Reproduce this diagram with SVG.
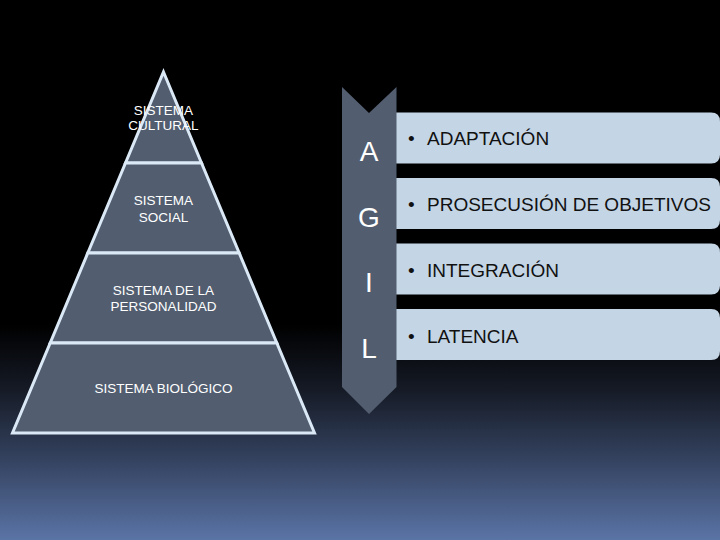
<svg xmlns="http://www.w3.org/2000/svg" width="720" height="540" viewBox="0 0 720 540">
<defs>
<linearGradient id="bg" x1="0" y1="0" x2="0" y2="1">
<stop offset="0" stop-color="#000"/>
<stop offset="0.6" stop-color="#000"/>
<stop offset="0.72" stop-color="#151a25"/>
<stop offset="0.85" stop-color="#34425f"/>
<stop offset="1" stop-color="#5a74a6"/>
</linearGradient>
<style>
.layer{fill:#525e70;stroke:#dbe9f7;stroke-width:3;stroke-linejoin:miter}
.ptxt{font-family:"Liberation Sans",Arial,sans-serif;font-size:13.5px;fill:#fff;text-anchor:middle}
.chev{fill:#525e70}
.let{font-family:"Liberation Sans",Arial,sans-serif;font-size:28px;fill:#fff;text-anchor:middle}
.bar{fill:#c4d5e6}
.btxt{font-family:"Liberation Sans",Arial,sans-serif;font-size:19px;fill:#111}
</style>
</defs>
<rect x="0" y="0" width="720" height="540" fill="url(#bg)"/>

<g id="pyramid">
<g id="cultural">
<polygon class="layer" points="163.5,72 201.5,163 125.5,163"/>
<text class="ptxt" x="163.5" y="115">SISTEMA</text>
<text class="ptxt" x="163.5" y="130">CULTURAL</text>
</g>
<g id="social">
<polygon class="layer" points="125.5,163 201.5,163 239.2,253 87.8,253"/>
<text class="ptxt" x="163.5" y="205">SISTEMA</text>
<text class="ptxt" x="163.5" y="222">SOCIAL</text>
</g>
<g id="personalidad">
<polygon class="layer" points="87.8,253 239.2,253 276.8,343 50.2,343"/>
<text class="ptxt" x="163.5" y="295">SISTEMA DE LA</text>
<text class="ptxt" x="163.5" y="311">PERSONALIDAD</text>
</g>
<g id="biologico">
<polygon class="layer" points="50.2,343 276.8,343 314.5,433 12.5,433"/>
<text class="ptxt" x="163.5" y="393">SISTEMA BIOLÓGICO</text>
</g>
</g>

<g id="agil">
<g id="bars">
<g id="bar-a">
<path class="bar" d="M396,112.5 H711 Q720,112.5 720,121.5 V154.5 Q720,163.5 711,163.5 H396 Z"/>
<text class="btxt" y="145"><tspan x="408">•</tspan><tspan x="427">ADAPTACIÓN</tspan></text>
</g>
<g id="bar-g">
<path class="bar" d="M396,178 H711 Q720,178 720,187 V220 Q720,229 711,229 H396 Z"/>
<text class="btxt" y="211"><tspan x="408">•</tspan><tspan x="427">PROSECUSIÓN DE OBJETIVOS</tspan></text>
</g>
<g id="bar-i">
<path class="bar" d="M396,243.5 H711 Q720,243.5 720,252.5 V285.5 Q720,294.5 711,294.5 H396 Z"/>
<text class="btxt" y="277"><tspan x="408">•</tspan><tspan x="427">INTEGRACIÓN</tspan></text>
</g>
<g id="bar-l">
<path class="bar" d="M396,309 H711 Q720,309 720,318 V351 Q720,360 711,360 H396 Z"/>
<text class="btxt" y="343"><tspan x="408">•</tspan><tspan x="427">LATENCIA</tspan></text>
</g>
</g>
<g id="chevron">
<path class="chev" d="M342,87 L369,113 L396.5,87 V387 L369,414 L342,387 Z"/>
<text class="let" x="369" y="161">A</text>
<text class="let" x="369" y="227">G</text>
<text class="let" x="369" y="292">I</text>
<text class="let" x="369" y="358">L</text>
</g>
</g>
</svg>
